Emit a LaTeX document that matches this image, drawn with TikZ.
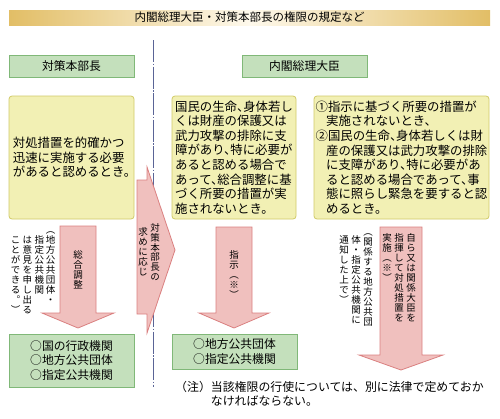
\documentclass[tikz,border=0pt]{standalone}
\usepackage{fontspec}
\setmainfont{Noto Sans CJK JP}
\newfontfamily\hanfont[RawFeature=+halt]{Noto Sans CJK JP}
% vertical forms of brackets and stops
\newfontfamily\tatefont[RawFeature=+vert]{Noto Sans CJK JP}
\usepackage{tikz}
\usetikzlibrary{
  calc,%
  positioning
}
\definecolor{barGold}{RGB}{226,190,102}
\definecolor{barCream}{RGB}{254,249,236}
\definecolor{hdGreen}{RGB}{196,224,188}
\definecolor{hdGreenLine}{RGB}{128,184,120}
\definecolor{condYellow}{RGB}{242,240,180}
\definecolor{condYellowLine}{RGB}{208,202,104}
\definecolor{arrPink}{RGB}{240,192,190}
\definecolor{arrPinkLine}{RGB}{218,128,128}
\definecolor{divBlue}{RGB}{90,100,150}

% one character per row, for vertical writing
\makeatletter
\newcommand\tate[1]{\vbox{\offinterlineskip\tate@loop#1\@nil}}
\def\tate@loop#1{\ifx#1\@nil\else
  \hbox to 1em{\hss\vrule width 0pt height .88em depth .12em #1\hss}\kern.05em
  \expandafter\tate@loop\fi}
\makeatother

\tikzset{>=latex}
\tikzset{hdbox/.style={draw=hdGreenLine, fill=hdGreen, line width=.8pt, inner sep=0pt,
    font=\fontsize{11.8}{14.5}\selectfont, align=left},
  condbox/.style={draw=condYellowLine, fill=condYellow, line width=.8pt, inner sep=0pt,
    rounded corners=3pt, align=left, font=\hanfont\fontsize{12.4}{14.6}\selectfont},
  vtext/.style={inner sep=0pt, anchor=north, font=\tatefont\fontsize{9.5}{10}\selectfont},
  blockarrow/.style={fill=arrPink, draw=arrPinkLine, line width=.8pt}}

\begin{document}
\begin{tikzpicture}[x=1pt, y=-1pt]
  \useasboundingbox (0,0) rectangle (500,418);
  \node[left color=barGold, right color=barGold, middle color=barCream, inner sep=0pt,
    minimum width=481pt, minimum height=15pt, font=\fontsize{11.5}{13}\selectfont]
    (title) at (249.5,17.5) {内閣総理大臣・対策本部長の権限の規定など};

  \draw[divBlue, line width=.8pt, dash pattern=on 22pt off 1.5pt on 1.5pt off 1.5pt]
    (153,40) coordinate (divtop) -- (153,387) coordinate (divbot);

  \node[hdbox, minimum width=125pt, minimum height=22pt] (hqHead) at (71.5,66) {対策本部長};
  \node[hdbox, minimum width=125pt, minimum height=22pt] (pmHead) at (304.5,66) {内閣総理大臣};

  \node[condbox, minimum width=125pt, minimum height=123pt] (hqCond) at (71.5,157.5)
    {対処措置を的確かつ\\迅速に実施する必要\\があると認めるとき。};
  \node[condbox, minimum width=124pt, minimum height=123pt] (pmCond) at (234,157.5)
    {国民の生命、身体若し\\くは財産の保護又は\\武力攻撃の排除に支\\障があり、特に必要が\\あると認める場合で\\あって、総合調整に基\\づく所要の措置が実\\施されないとき。};
  \node[condbox, minimum width=175pt, minimum height=123pt] (pmCond2) at (401.5,157.5)
    {①指示に基づく所要の措置が\\\hspace*{.85em}実施されないとき、\\②国民の生命、身体若しくは財\\\hspace*{.85em}産の保護又は武力攻撃の排除\\\hspace*{.85em}に支障があり、特に必要があ\\\hspace*{.85em}ると認める場合であって、事\\\hspace*{.85em}態に照らし緊急を要すると認\\\hspace*{.85em}めるとき。};

  % block arrows
  \draw[blockarrow] (60,226) -- (96,226) -- (96,313) -- (114,313) -- (78,328)
    -- (42,313) -- (60,313) -- cycle;
  \draw[blockarrow] (137,180) -- (147,180) -- (147,167) -- (175,250) -- (147,333)
    -- (147,314) -- (137,314) -- cycle;
  \draw[blockarrow] (216,227) -- (252,227) -- (252,313) -- (269,313) -- (234,328)
    -- (199,313) -- (216,313) -- cycle;
  \draw[blockarrow] (380,227) -- (422,227) -- (422,355) -- (443,355) -- (401,370)
    -- (359,355) -- (380,355) -- cycle;

  \node[vtext] (adjust) at (78,250) {\tate{総合調整}};
  \node[vtext] (opin1) at (50.7,225) {\tate{（地方公共団体・}};
  \node[vtext] (opin2) at (39.3,235) {\tate{指定公共機関}};
  \node[vtext] (opin3) at (27.3,235) {\tate{は意見を申し出る}};
  \node[vtext] (opin4) at (15.7,235) {\tate{ことができる。）}};

  \node[vtext] (req1) at (155,222.5) {\tate{対策本部長の}};
  \node[vtext] (req2) at (143,227) {\tate{求めに応じ}};

  \node[vtext] (instr) at (234,250) {\tate{指示（※）}};

  \node[vtext] (exec1) at (411,233) {\tate{自ら又は関係大臣を}};
  \node[vtext] (exec2) at (399,233) {\tate{指揮して対処措置を}};
  \node[vtext] (exec3) at (387,233) {\tate{実施（※）}};
  \node[vtext] (notif1) at (368,227) {\tate{（関係する地方公共団}};
  \node[vtext] (notif2) at (356,235) {\tate{体・指定公共機関に}};
  \node[vtext] (notif3) at (344,235) {\tate{通知した上で）}};

  \node[hdbox, minimum width=125pt, minimum height=53pt] (hqTarget) at (71.5,360.5)
    {○国の行政機関\\○地方公共団体\\○指定公共機関};
  \node[hdbox, minimum width=125pt, minimum height=35pt] (pmTarget) at (234.5,351.5)
    {○地方公共団体\\○指定公共機関};

  \node[anchor=west, inner sep=0pt, align=left, font=\fontsize{11.9}{14}\selectfont]
    (note) at (175,394)
    {（注）当該権限の行使については、別に法律で定めておか\\\hspace*{3em}なければならない。};
\end{tikzpicture}
\end{document}
